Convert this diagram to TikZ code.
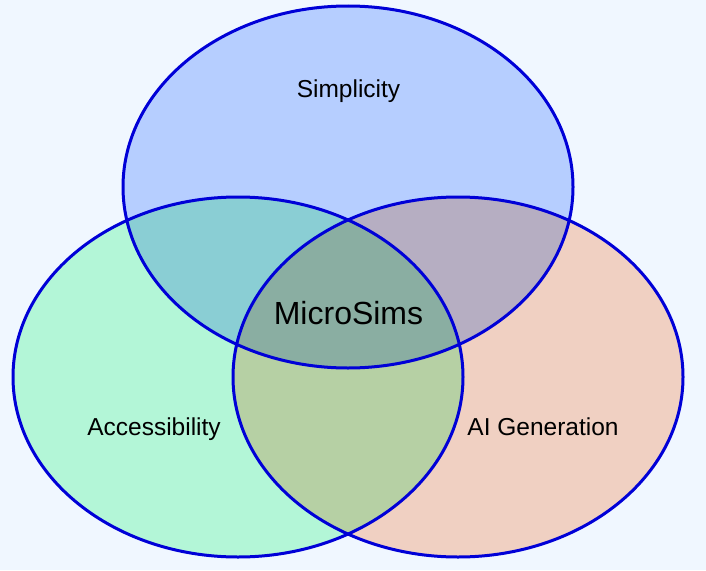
\documentclass[tikz,border=0pt]{standalone}
\usepackage{fontspec}
\setmainfont{Liberation Sans}
\definecolor{bg}{RGB}{240,247,255}
\definecolor{cT}{RGB}{182,206,255}
\definecolor{cL}{RGB}{179,246,215}
\definecolor{cR}{RGB}{240,208,194}
\definecolor{cTL}{RGB}{138,206,212}
\definecolor{cTR}{RGB}{182,174,194}
\definecolor{cLR}{RGB}{182,208,164}
\definecolor{cC}{RGB}{138,174,162}
\definecolor{edge}{RGB}{0,0,215}
\tikzset{
  vennedge/.style={draw=edge, line width=3pt},
  lbl/.style={font=\fontsize{24.5}{29}\selectfont, anchor=base, inner sep=0pt},
  mainlbl/.style={font=\fontsize{32}{38}\selectfont, anchor=base, inner sep=0pt}
}
\def\topE{(348,187) ellipse [x radius=225pt, y radius=181pt]}
\def\leftE{(238,377) ellipse [x radius=225pt, y radius=180pt]}
\def\rightE{(458,377) ellipse [x radius=225pt, y radius=180pt]}
\begin{document}
\begin{tikzpicture}[x=1pt,y=-1pt]
\fill[bg] (0,0) rectangle (706,570);
\useasboundingbox (0,0) rectangle (706,570);
% single regions
\fill[cT] \topE;
\fill[cL] \leftE;
\fill[cR] \rightE;
% pairwise overlaps
\begin{scope}
  \clip \topE;
  \fill[cTL] \leftE;
  \fill[cTR] \rightE;
\end{scope}
\begin{scope}
  \clip \leftE;
  \fill[cLR] \rightE;
\end{scope}
% centre
\begin{scope}
  \clip \topE;
  \clip \leftE;
  \fill[cC] \rightE;
\end{scope}
% outlines
\draw[vennedge] \topE;
\draw[vennedge] \leftE;
\draw[vennedge] \rightE;
% labels
\node[lbl] (simp) at (348.5,97.5) {Simplicity};
\node[lbl] (acc) at (154,435) {Accessibility};
\node[lbl] (aigen) at (543,435) {AI Generation};
\node[mainlbl] (micro) at (348.5,324) {MicroSims};
\end{tikzpicture}
\end{document}
